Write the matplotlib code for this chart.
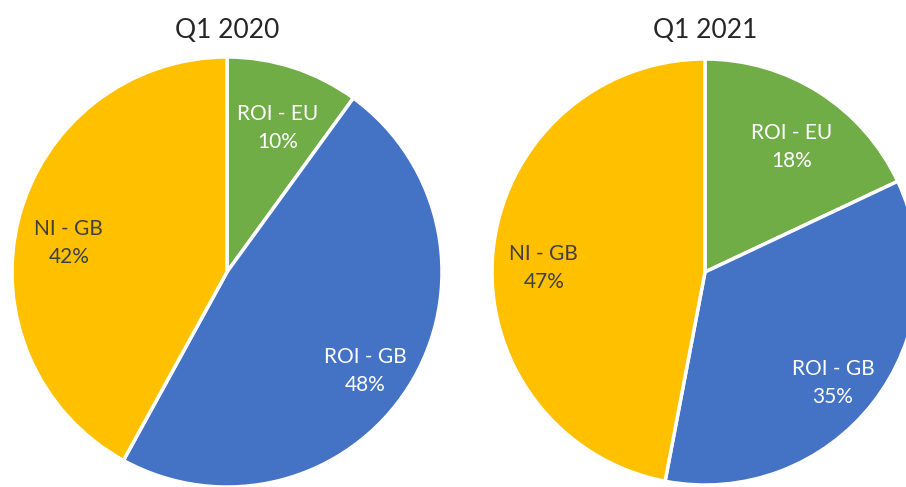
import numpy as np
import matplotlib.pyplot as plt

# ------------------ data ------------------
categories = ["ROI - EU", "ROI - GB", "NI - GB"]
titles = ["Q1 2020", "Q1 2021"]
share_2020 = [10, 48, 42]
share_2021 = [18, 35, 47]
colors = ["#70AD47", "#4472C4", "#FFC000"]
text_colors = ["white", "white", "#404040"]

plt.rcParams['font.family'] = ['Lato', 'DejaVu Sans']

fig = plt.figure(figsize=(9.06, 4.87), dpi=100)
W, H = 906, 487

# pie boxes in pixels: (left, top, size)
boxes = [(12, 57, 430), (492, 59, 426)]

for (left, top, size), title, values in zip(boxes, titles, [share_2020, share_2021]):
    ax = fig.add_axes([left / W, (H - top - size) / H, size / W, size / H])
    wedges, _ = ax.pie(values, colors=colors, startangle=90, counterclock=False,
                       radius=1, wedgeprops=dict(edgecolor='white', linewidth=2.5))
    ax.set_xlim(-1, 1)
    ax.set_ylim(-1, 1)
    ax.set_aspect('equal')
    ax.axis('off')
    # labels inside each slice
    for w, cat, v, tc in zip(wedges, categories, values, text_colors):
        mid = np.deg2rad((w.theta1 + w.theta2) / 2)
        r = 0.76
        ax.text(r * np.cos(mid), r * np.sin(mid) - 0.055, f"{cat}\n{v}%", ha='center', va='center',
                color=tc, fontsize=15, linespacing=1.5)
    fig.text((left + size / 2) / W, 1 - 30 / H, title, ha='center', va='center',
             fontsize=19, color='#262626')

plt.savefig("out.png", dpi=100)
